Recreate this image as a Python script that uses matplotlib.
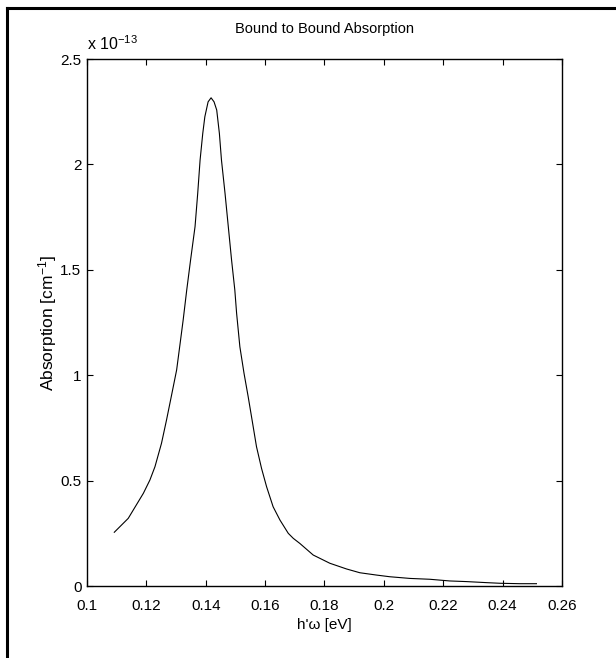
import numpy as np
import matplotlib
matplotlib.use("Agg")
import matplotlib.pyplot as plt
from matplotlib.lines import Line2D
from matplotlib.ticker import FuncFormatter

plt.rcParams['font.family'] = ['Liberation Sans', 'DejaVu Sans']
plt.rcParams['mathtext.default'] = 'regular'

# photon energy [eV] and absorption [1e-13 cm^-1]
energy = [0.1092, 0.1139, 0.1190, 0.1212, 0.1229, 0.1251, 0.1268, 0.1285,
          0.1302, 0.1313, 0.1324, 0.1336, 0.1349, 0.1364, 0.1373, 0.1381,
          0.1390, 0.1397, 0.1408, 0.1418, 0.1428, 0.1437, 0.1446, 0.1453,
          0.1465, 0.1476, 0.1487, 0.1498, 0.1504, 0.1515, 0.1529, 0.1543,
          0.1557, 0.1571, 0.1588, 0.1605, 0.1627, 0.1650, 0.1678, 0.1695,
          0.1717, 0.1762, 0.1818, 0.1874, 0.1919, 0.1975, 0.2020, 0.2088,
          0.2155, 0.2222, 0.2278, 0.2346, 0.2391, 0.2458, 0.2514]
absorp = [0.255, 0.321, 0.440, 0.503, 0.566, 0.677, 0.788, 0.906,
          1.025, 1.143, 1.262, 1.404, 1.547, 1.705, 1.863, 2.021,
          2.147, 2.226, 2.297, 2.316, 2.297, 2.258, 2.147, 2.021,
          1.863, 1.705, 1.547, 1.404, 1.294, 1.135, 1.009, 0.898,
          0.780, 0.661, 0.558, 0.471, 0.376, 0.313, 0.250, 0.226,
          0.202, 0.147, 0.108, 0.081, 0.063, 0.052, 0.044, 0.036,
          0.032, 0.024, 0.021, 0.016, 0.013, 0.011, 0.011]

xticks = [0.1, 0.12, 0.14, 0.16, 0.18, 0.2, 0.22, 0.24, 0.26]
yticks = [0, 0.5, 1, 1.5, 2, 2.5]

fig = plt.figure(figsize=(6.16, 6.58), dpi=100)
ax = fig.add_axes([0.1412, 0.1094, 0.7711, 0.8009])

ax.plot(energy, absorp, color='black', lw=0.8)

ax.set_xlim(0.1, 0.26)
ax.set_ylim(0, 2.5)
ax.set_xticks(xticks)
ax.set_yticks(yticks)
fmt = FuncFormatter(lambda v, p: '%g' % v)
ax.xaxis.set_major_formatter(fmt)
ax.yaxis.set_major_formatter(fmt)
ax.tick_params(direction='in', top=True, right=True, length=4, width=0.8,
               labelsize=11)
ax.tick_params(axis='x', pad=9)
ax.tick_params(axis='y', pad=4)
for s in ax.spines.values():
    s.set_linewidth(1.0)

ax.set_title('Bound to Bound Absorption', fontsize=10.5, pad=19)
ax.set_xlabel("h'\u03c9 [eV]", fontsize=11, labelpad=4)
ax.set_ylabel('Absorption [cm$^{-1}$]', fontsize=12.5, labelpad=1)
ax.text(0.0, 1.017, 'x 10$^{-13}$', transform=ax.transAxes, fontsize=11.5,
        ha='left', va='baseline')

# frame around the figure (left and top)
fig.add_artist(Line2D([6.5/616, 6.5/616], [0, 1 - 8.2/658], color='black',
                      lw=2.2, transform=fig.transFigure, solid_capstyle='projecting'))
fig.add_artist(Line2D([6.5/616, 1], [1 - 8.2/658, 1 - 8.2/658], color='black',
                      lw=2.2, transform=fig.transFigure, solid_capstyle='projecting'))

fig.savefig('out.png', dpi=100)
